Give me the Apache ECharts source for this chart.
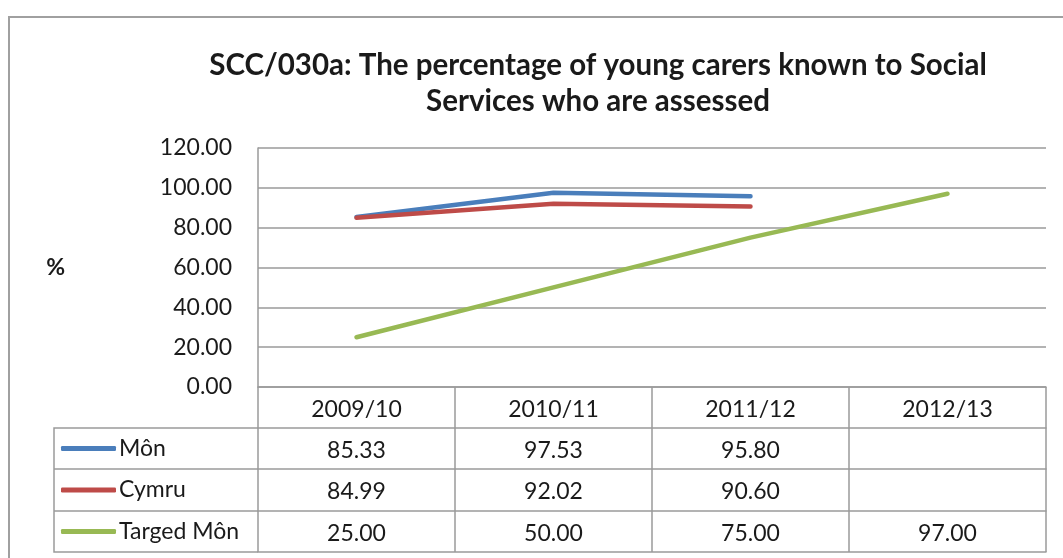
<!DOCTYPE html>
<html>
<head>
<meta charset="utf-8">
<script src="https://cdn.jsdelivr.net/npm/echarts@6/dist/echarts.min.js"></script>
<style>html,body{margin:0;padding:0;background:#fff}#c{width:1063px;height:558px}</style>
</head>
<body>
<div id="c"></div>
<script>
var titleText = 'SCC/030a: The percentage of young carers known to Social\nServices who are assessed';
var categories = ['2009/10', '2010/11', '2011/12', '2012/13'];
var seriesNames = ['Môn', 'Cymru', 'Targed Môn'];
var monValues = [85.33, 97.53, 95.80, null];
var cymruValues = [84.99, 92.02, 90.60, null];
var targetValues = [25.00, 50.00, 75.00, 97.00];
var yTicks = [0, 20, 40, 60, 80, 100, 120];
var colors = ['#4A7EBB', '#BE4B48', '#98B954'];

var FONT = 'Lato, "Open Sans", sans-serif';
var GRID = {left: 258, top: 148, right: 17, bottom: 171};
var lineColor = '#9a9a9a';
var allValues = [monValues, cymruValues, targetValues];
function fmt(v){ return v == null ? '' : v.toFixed(2); }

var rowOffsets = [41, 82, 124];
var rowHeights = [41, 42, 41];

var xAxes = [{
  type: 'category', data: categories, gridIndex: 0, position: 'bottom', boundaryGap: true,
  axisLine: {show: true, lineStyle: {color: lineColor, width: 1.5}},
  axisTick: {show: true, interval: 0, length: 41, lineStyle: {color: lineColor, width: 1.5}},
  axisLabel: {interval: 0, margin: 11, color: '#1a1a1a', fontSize: 23, fontFamily: FONT},
  splitLine: {show: false}
}];
allValues.forEach(function(vals, i){
  xAxes.push({
    type: 'category', data: vals.map(fmt), gridIndex: 0, position: 'bottom', offset: rowOffsets[i], boundaryGap: true,
    axisLine: {show: true, lineStyle: {color: lineColor, width: 1.5}},
    axisTick: {show: true, interval: 0, length: rowHeights[i], lineStyle: {color: lineColor, width: 1.5}},
    axisLabel: {interval: 0, margin: 11, color: '#1a1a1a', fontSize: 23, fontFamily: FONT},
    splitLine: {show: false}
  });
});
xAxes.push({
  type: 'category', data: categories.map(function(){return '';}), gridIndex: 0, position: 'bottom', offset: 165, boundaryGap: true,
  axisLine: {show: true, lineStyle: {color: lineColor, width: 1.5}},
  axisTick: {show: false}, axisLabel: {show: false}, splitLine: {show: false}
});

var chart = echarts.init(document.getElementById('c'), null, {renderer: 'canvas'});
var option = {
  backgroundColor: '#fff',
  animation: false,
  title: {
    text: titleText, left: 593, top: 42, textAlign: 'center',
    textStyle: {fontSize: 29.5, fontWeight: 'bold', fontFamily: FONT, color: '#1a1a1a', lineHeight: 36}
  },
  legend: {
    orient: 'vertical', left: 61, top: 437, itemGap: 18.5, padding: 0,
    itemWidth: 55, itemHeight: 5, icon: 'roundRect', itemStyle: {borderWidth: 0},
    textStyle: {fontSize: 23, fontFamily: FONT, color: '#1a1a1a', padding: [0, 0, 0, -2]},
    data: seriesNames, selectedMode: false
  },
  grid: GRID,
  xAxis: xAxes,
  yAxis: {
    type: 'value', min: yTicks[0], max: yTicks[yTicks.length - 1], interval: 20,
    name: '%', nameLocation: 'middle', nameGap: 193, nameRotate: 0,
    nameTextStyle: {fontSize: 23, fontWeight: 'bold', fontFamily: FONT, color: '#1a1a1a'},
    axisLine: {show: true, lineStyle: {color: lineColor, width: 1.5}},
    axisTick: {show: false},
    axisLabel: {formatter: function(v){ return v.toFixed(2); }, margin: 26, color: '#1a1a1a', fontSize: 23, fontFamily: FONT},
    splitLine: {show: true, lineStyle: {color: lineColor, width: 1.5}}
  },
  series: allValues.map(function(vals, i){
    return {
      name: seriesNames[i], type: 'line', data: vals, xAxisIndex: 0,
      symbol: 'none', showSymbol: false, connectNulls: false,
      lineStyle: {color: colors[i], width: 4.5, cap: 'round'},
      itemStyle: {color: colors[i]}, z: 3
    };
  }),
  graphic: [
    {type: 'rect', shape: {x: 9, y: 17, width: 1200, height: 700}, style: {fill: 'none', stroke: '#a0a0a0', lineWidth: 2}, silent: true, z: -1},
    {type: 'polyline', shape: {points: [[258, 428], [54, 428], [54, 552], [258, 552]]}, style: {fill: 'none', stroke: lineColor, lineWidth: 1.5}, silent: true},
    {type: 'line', shape: {x1: 54, y1: 469, x2: 258, y2: 469}, style: {stroke: lineColor, lineWidth: 1.5}, silent: true},
    {type: 'line', shape: {x1: 54, y1: 511, x2: 258, y2: 511}, style: {stroke: lineColor, lineWidth: 1.5}, silent: true}
  ]
};
chart.setOption(option);
</script>
</body>
</html>
